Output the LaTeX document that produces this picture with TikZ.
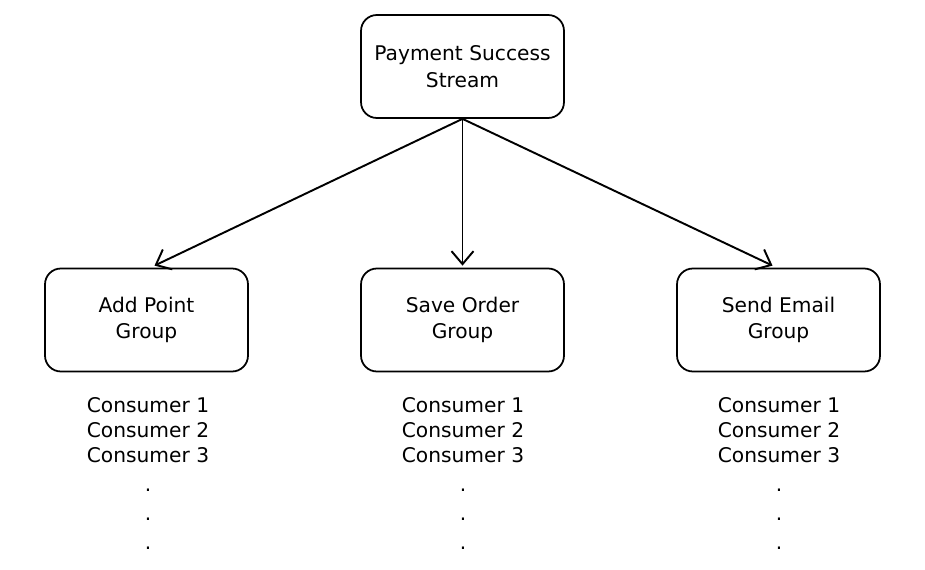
\documentclass[tikz,border=0pt]{standalone}
\usepackage{fontspec}
\setmainfont{DejaVu Sans}
\usetikzlibrary{arrows.meta,positioning,calc}

\begin{document}
\begin{tikzpicture}[x=0.02cm, y=-0.02cm,
    box/.style={rectangle, rounded corners=9pt, draw, line width=1pt, minimum width=4.06cm, minimum height=2.06cm, align=center, font=\fontsize{11.5}{15}\selectfont},
    list/.style={align=center, inner sep=0pt, anchor=north, font=\fontsize{11.5}{14.4}\selectfont},
    arr/.style={-{Straight Barb[length=2.6mm, width=4.4mm]}, line width=1.1pt}]
    \useasboundingbox (0,0) rectangle (925,570);
    \node[box] (stream) at (462.5,66.5) {Payment Success\\Stream};
    \node[box] (point) at (146.5,320) {Add Point\\Group};
    \node[box] (order) at (462.5,320) {Save Order\\Group};
    \node[box] (email) at (778.5,320) {Send Email\\Group};

    \node[list] (pointlist) at (148,397) {Consumer 1\\Consumer 2\\Consumer 3\\[2pt].\\[2pt].\\[2pt].};
    \node[list] (orderlist) at (463,397) {Consumer 1\\Consumer 2\\Consumer 3\\[2pt].\\[2pt].\\[2pt].};
    \node[list] (emaillist) at (779,397) {Consumer 1\\Consumer 2\\Consumer 3\\[2pt].\\[2pt].\\[2pt].};

    \draw[arr] (stream.south) -- ($(point.north)+(8,-2)$);
    \draw[arr] (stream.south) -- ($(order.north)+(0,-2)$);
    \draw[arr] (stream.south) -- ($(email.north)+(-6,-2)$);
\end{tikzpicture}
\end{document}
